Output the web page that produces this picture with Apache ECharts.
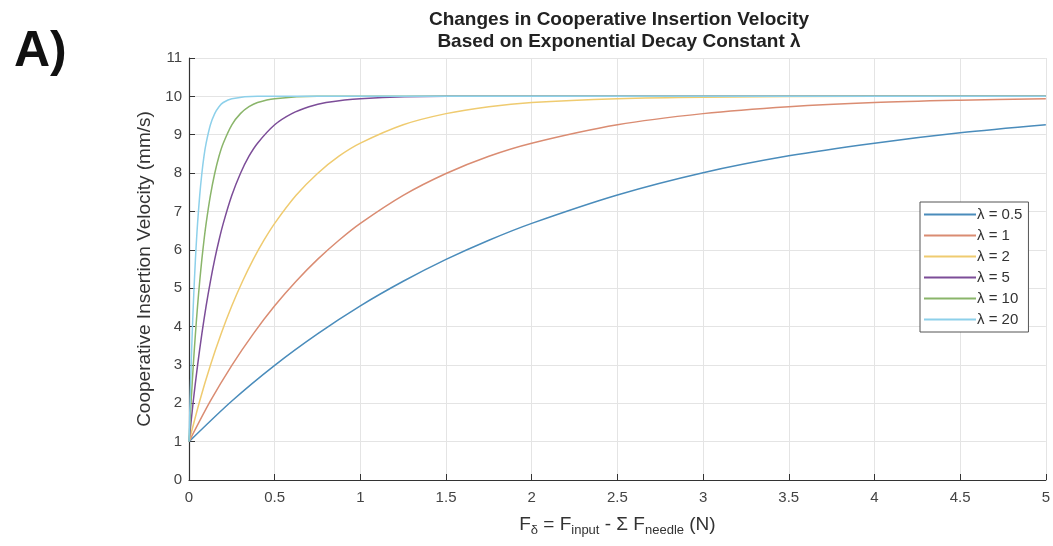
<!DOCTYPE html>
<html>
<head>
<meta charset="utf-8">
<script src="https://cdn.jsdelivr.net/npm/echarts@6/dist/echarts.min.js"></script>
<style>
  html, body { margin: 0; padding: 0; background: #fff; }
  #main { width: 1053px; height: 546px; }
</style>
</head>
<body>
<div id="main"></div>
<script>
// values, one x/y list per curve
var names = ['λ = 0.5', 'λ = 1', 'λ = 2', 'λ = 5', 'λ = 10', 'λ = 20'];
var colors = ['#4a8cbb', '#da8c72', '#efcb70', '#7c4d98', '#8ab56a', '#8dd0ea'];

var x05 = [0, 0.25, 0.5, 0.75, 1, 1.25, 1.5, 1.75, 2, 2.5, 3, 3.5, 4, 4.5, 5];
var y05 = [1, 2.06, 2.99, 3.81, 4.54, 5.18, 5.75, 6.25, 6.69, 7.43, 8.01, 8.45, 8.78, 9.05, 9.26];

var x1 = [0, 0.125, 0.25, 0.375, 0.5, 0.625, 0.75, 0.875, 1, 1.25, 1.5, 1.75, 2, 2.5, 3, 3.5, 4, 4.5, 5];
var y1 = [1, 2.06, 2.99, 3.81, 4.54, 5.18, 5.75, 6.25, 6.69, 7.42, 7.99, 8.44, 8.78, 9.26, 9.55, 9.73, 9.84, 9.9, 9.94];

var x2 = [0, 0.0625, 0.125, 0.1875, 0.25, 0.3125, 0.375, 0.4375, 0.5, 0.625, 0.75, 0.875, 1, 1.25, 1.5, 1.75, 2, 2.5, 3, 4, 5];
var y2 = [1, 2.06, 2.99, 3.81, 4.54, 5.18, 5.75, 6.25, 6.69, 7.42, 7.99, 8.44, 8.78, 9.26, 9.55, 9.73, 9.84, 9.94, 9.98, 10, 10];

var x5 = [0, 0.025, 0.05, 0.075, 0.1, 0.125, 0.15, 0.175, 0.2, 0.25, 0.3, 0.35, 0.4, 0.5, 0.6, 0.7, 0.8, 1, 1.5, 5];
var y5 = [1, 2.06, 2.99, 3.81, 4.54, 5.18, 5.75, 6.25, 6.69, 7.42, 7.99, 8.44, 8.78, 9.26, 9.55, 9.73, 9.84, 9.94, 10, 10];

var x10 = [0, 0.0125, 0.025, 0.0375, 0.05, 0.0625, 0.075, 0.0875, 0.1, 0.125, 0.15, 0.175, 0.2, 0.25, 0.3, 0.35, 0.4, 0.5, 0.75, 5];
var y10 = [1, 2.06, 2.99, 3.81, 4.54, 5.18, 5.75, 6.25, 6.69, 7.42, 7.99, 8.44, 8.78, 9.26, 9.55, 9.73, 9.84, 9.94, 10, 10];

var x20 = [0, 0.00625, 0.0125, 0.01875, 0.025, 0.03125, 0.0375, 0.04375, 0.05, 0.0625, 0.075, 0.0875, 0.1, 0.125, 0.15, 0.175, 0.2, 0.25, 0.4, 5];
var y20 = [1, 2.06, 2.99, 3.81, 4.54, 5.18, 5.75, 6.25, 6.69, 7.42, 7.99, 8.44, 8.78, 9.26, 9.55, 9.73, 9.84, 9.94, 10, 10];

var xs = [x05, x1, x2, x5, x10, x20];
var ys = [y05, y1, y2, y5, y10, y20];

function pairs(a, b) {
  var out = [];
  for (var i = 0; i < a.length; i++) out.push([a[i], b[i]]);
  return out;
}

var series = [];
for (var i = 0; i < names.length; i++) {
  series.push({
    name: names[i],
    type: 'line',
    smooth: 0.3,
    symbol: 'none',
    data: pairs(xs[i], ys[i]),
    lineStyle: { color: colors[i], width: 1.5 },
    itemStyle: { color: colors[i] }
  });
}

var font = 'Liberation Sans, Arial, sans-serif';
var chart = echarts.init(document.getElementById('main'));
chart.setOption({
  animation: false,
  backgroundColor: '#fff',
  color: colors,
  title: [{
    text: 'Changes in Cooperative Insertion Velocity\nBased on Exponential Decay Constant λ',
    left: 614, top: 4, textAlign: 'center',
    textStyle: { fontFamily: font, fontSize: 19, fontWeight: 'bold', color: '#222', lineHeight: 22 }
  }, {
    text: 'A)',
    left: 9, top: 22,
    textStyle: { fontFamily: font, fontSize: 50, fontWeight: 'bold', color: '#111' }
  }],
  grid: { left: 189, right: 5, top: 58, bottom: 66 },
  legend: {
    data: names,
    orient: 'vertical',
    left: 920, top: 202,
    icon: 'rect',
    itemWidth: 52, itemHeight: 2, itemGap: 6,
    padding: [5, 6, 5, 4],
    backgroundColor: '#fff',
    borderColor: '#555', borderWidth: 1,
    textStyle: { fontFamily: font, fontSize: 15, lineHeight: 15, color: '#333', padding: [0, 0, 0, -4] }
  },
  xAxis: {
    type: 'value', min: 0, max: 5, interval: 0.5,
    name: '{a|F}{s|δ}{a| = F}{s|input}{a| - Σ F}{s|needle}{a| (N)}',
    nameLocation: 'middle', nameGap: 32,
    nameTextStyle: {
      rich: {
        a: { fontFamily: font, fontSize: 19, color: '#333' },
        s: { fontFamily: font, fontSize: 13, color: '#333', verticalAlign: 'bottom', padding: [12, 0, 0, 0] }
      }
    },
    axisLine: { lineStyle: { color: '#333', width: 1.2 } },
    axisTick: { inside: true, length: 6, lineStyle: { color: '#333' } },
    axisLabel: { fontFamily: font, fontSize: 15, color: '#444', margin: 10 },
    splitLine: { lineStyle: { color: '#e4e4e4' } }
  },
  yAxis: {
    type: 'value', min: 0, max: 11, interval: 1,
    name: 'Cooperative Insertion Velocity (mm/s)',
    nameLocation: 'middle', nameGap: 23,
    nameTextStyle: { fontFamily: font, fontSize: 19, color: '#333' },
    axisLine: { show: true, lineStyle: { color: '#333', width: 1.2 } },
    axisTick: { show: true, inside: true, length: 6, lineStyle: { color: '#333' } },
    axisLabel: { fontFamily: font, fontSize: 15, color: '#444', margin: 7 },
    splitLine: { lineStyle: { color: '#e4e4e4' } }
  },
  series: series
});
</script>
</body>
</html>
